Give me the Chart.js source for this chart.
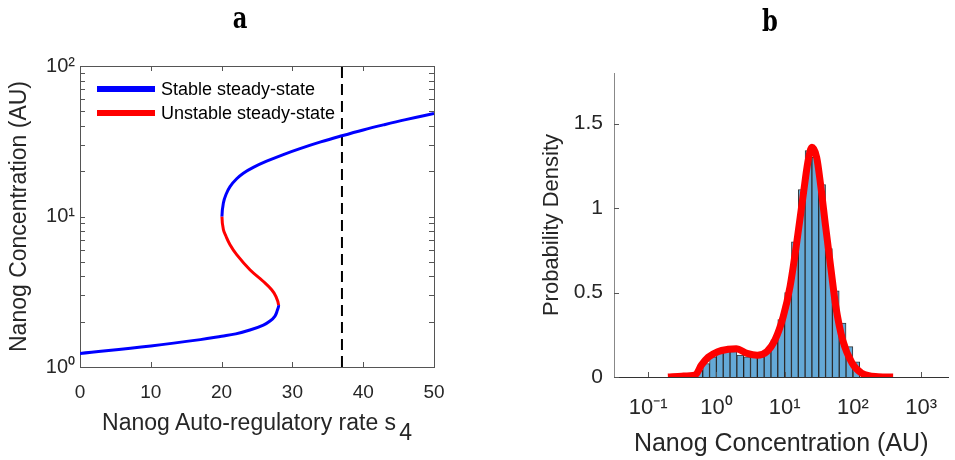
<!DOCTYPE html>
<html>
<head>
<meta charset="utf-8">
<script src="https://cdn.jsdelivr.net/npm/chart.js@4.4.0/dist/chart.umd.min.js"></script>
<style>
  body { margin: 0; background: #fff; }
  #page { position: relative; width: 955px; height: 460px; overflow: hidden; font-family: "Liberation Sans", Arial, sans-serif; color: #262626; }
  canvas { position: absolute; top: 0; }
  #chartA { left: 0; }
  #chartB { left: 477px; }
  .panel { position: absolute; width: 40px; text-align: center; font: bold 29px "DejaVu Serif", serif; line-height: 32px; color: #000; transform: scaleX(0.78); }
  #xTitleA { position: absolute; left: 80px; width: 354px; top: 408px; text-align: center; font-size: 23px; line-height: 28px; white-space: nowrap; }
  #xTitleA span { position: relative; top: 10px; margin-left: 3px; }
</style>
</head>
<body>
<div id="page">
  <canvas id="chartA" width="477" height="460"></canvas>
  <canvas id="chartB" width="478" height="460"></canvas>
  <div class="panel" style="left:220px;top:2px">a</div>
  <div class="panel" style="left:750px;top:5px">b</div>
  <div id="xTitleA">Nanog Auto-regulatory rate s<span>4</span></div>
</div>
<script>
// ---- panel a: steady states of Nanog vs auto-regulatory rate s4 ----
// lower stable branch (s ascending, ends at the lower fold)
const lowerS = [0, 10, 17, 20, 22, 24, 25.9, 26.84, 27.54, 27.87, 28.05];
const lowerN = [1.23, 1.38, 1.52, 1.60, 1.66, 1.76, 1.90, 2.02, 2.18, 2.38, 2.58];
// unstable branch (from lower fold back to upper fold)
const unstableS = [28.05, 27.68, 27.07, 25.9, 24.0, 22.13, 21.19, 20.62, 20.25, 20.05];
const unstableN = [2.58, 2.94, 3.26, 3.70, 4.43, 5.58, 6.5, 7.39, 8.2, 10.0];
// upper stable branch (from upper fold)
const upperS = [20.05, 20.25, 20.62, 21.19, 22.13, 23.07, 24.48, 26.36, 28.72, 31.07, 34.0, 37.0, 40.0, 42.84, 46.0, 50.0];
const upperN = [10.0, 12.3, 14.0, 15.8, 17.8, 19.4, 21.2, 23.3, 25.8, 28.25, 31.3, 34.4, 37.6, 40.6, 44.0, 48.3];
const markerS = [37, 37];
const markerN = [1, 100];
const xTicksA = [0, 10, 20, 30, 40, 50];
const yDecadesA = [1, 10, 100];
const legendLabelsA = ['Stable steady-state', 'Unstable steady-state'];

// ---- panel b: histogram of log10 Nanog (bin centres) and density fit ----
const binLogCenters = [-0.25, -0.15, -0.05, 0.05, 0.15, 0.25, 0.35, 0.45, 0.55, 0.65, 0.75, 0.85,
                       0.95, 1.05, 1.15, 1.25, 1.35, 1.45, 1.55, 1.65, 1.75, 1.85, 1.95, 2.05];
const binDensity = [0.04, 0.08, 0.12, 0.14, 0.15, 0.15, 0.13, 0.12, 0.12, 0.12, 0.15, 0.22,
                    0.34, 0.50, 0.80, 1.11, 1.34, 1.30, 1.14, 0.76, 0.51, 0.32, 0.18, 0.09];
const fitLogConc = [-0.71, -0.51, -0.31, -0.22, -0.12, 0.02, 0.17, 0.29, 0.45, 0.60, 0.74, 0.86, 0.98,
                    1.08, 1.17, 1.27, 1.34, 1.40, 1.47, 1.53, 1.60, 1.68, 1.75, 1.85, 1.99, 2.13, 2.37, 2.59];
const fitDensity = [0.0, 0.005, 0.012, 0.07, 0.117, 0.15, 0.164, 0.168, 0.14, 0.129, 0.15, 0.22, 0.358,
                    0.537, 0.774, 1.07, 1.27, 1.36, 1.30, 1.13, 0.893, 0.636, 0.418, 0.22, 0.081, 0.022, 0.002, 0.0];
const xDecadesB = [0.1, 1, 10, 100, 1000];
const yTicksB = [0, 0.5, 1, 1.5];

const BLUE = '#0000FF', RED = '#FF0000';
const SUP = {'-': '\u207B', '0': '\u2070', '1': '\u00B9', '2': '\u00B2', '3': '\u00B3'};
function powLabel(v) {
    const e = Math.round(Math.log10(v));
    if (Math.abs(v - Math.pow(10, e)) > 1e-9 * v) return '';
    return '10' + String(e).split('').map(c => SUP[c]).join('');
}
function xy(xs, ys) { return xs.map((x, i) => ({x: x, y: ys[i]})); }

// inward tick marks (MATLAB style), optional full box
const inTicks = {
    id: 'inTicks',
    afterDraw(chart, args, o) {
        const {ctx, chartArea: ca, scales} = chart;
        const len = o.len || 5;
        ctx.save();
        ctx.lineWidth = 1;
        ctx.strokeStyle = o.color;
        const seg = (x1, y1, x2, y2) => { ctx.beginPath(); ctx.moveTo(x1, y1); ctx.lineTo(x2, y2); ctx.stroke(); };
        scales.x.ticks.forEach(t => {
            const p = Math.round(scales.x.getPixelForValue(t.value)) + 0.5;
            seg(p, ca.bottom, p, ca.bottom - len);
            if (o.box) seg(p, ca.top, p, ca.top + len);
        });
        scales.y.ticks.forEach(t => {
            const p = Math.round(scales.y.getPixelForValue(t.value)) + 0.5;
            seg(ca.left, p, ca.left + len, p);
            if (o.box) seg(ca.right, p, ca.right - len, p);
        });
        if (o.box) {
            seg(ca.left, Math.round(ca.top) + 0.5, ca.right, Math.round(ca.top) + 0.5);
            seg(Math.round(ca.right) + 0.5, ca.top, Math.round(ca.right) + 0.5, ca.bottom);
        }
        ctx.restore();
    }
};

// legend drawn inside the plot area, top-left
const insideLegend = {
    id: 'insideLegend',
    afterDraw(chart, args, o) {
        if (!o.display) return;
        const {ctx, chartArea: ca} = chart;
        ctx.save();
        ctx.font = o.font;
        ctx.textBaseline = 'middle';
        let y = ca.top + o.top;
        o.labels.forEach((label, i) => {
            const x0 = ca.left + o.left;
            ctx.strokeStyle = o.colors[i];
            ctx.lineWidth = o.lineWidth;
            ctx.beginPath(); ctx.moveTo(x0, y); ctx.lineTo(x0 + o.lineLength, y); ctx.stroke();
            ctx.fillStyle = '#000';
            ctx.fillText(label, x0 + o.lineLength + o.gap, y + 1);
            y += o.spacing;
        });
        ctx.restore();
    }
};

window.addEventListener('load', () => {
    Chart.defaults.font.family = '"Liberation Sans", Arial, sans-serif';
    Chart.defaults.color = '#262626';

    // one continuous S-shaped path: lower branch -> unstable branch -> upper branch
    const curve = xy(lowerS, lowerN)
        .concat(xy(unstableS, unstableN).slice(1))
        .concat(xy(upperS, upperN).slice(1));
    const redFrom = lowerS.length - 1;
    const redTo = redFrom + unstableS.length - 1;

    new Chart(document.getElementById('chartA').getContext('2d'), {
        type: 'line',
        data: {
            datasets: [
                { label: 'Steady states', data: curve, borderColor: BLUE, borderWidth: 3,
                  pointRadius: 0, tension: 0.4, order: 0,
                  segment: { borderColor: c => (c.p0DataIndex >= redFrom && c.p1DataIndex <= redTo) ? RED : BLUE } },
                { label: 's4 = 37', data: xy(markerS, markerN), borderColor: '#000', borderWidth: 2,
                  borderDash: [11, 6], pointRadius: 0, order: 1 }
            ]
        },
        options: {
            responsive: false,
            animation: false,
            layout: { padding: { left: 0, right: 43, top: 66, bottom: 0 } },
            plugins: {
                legend: { display: false },
                tooltip: { enabled: false },
                inTicks: { color: '#555', len: 5, box: true },
                insideLegend: { display: true, labels: legendLabelsA, colors: [BLUE, RED],
                                font: '18px "Liberation Sans", Arial, sans-serif',
                                left: 17, top: 23, lineLength: 58, gap: 6, lineWidth: 6, spacing: 24 }
            },
            scales: {
                x: {
                    type: 'linear', min: 0, max: 50,
                    afterBuildTicks: s => { s.ticks = xTicksA.map(v => ({value: v})); },
                    afterFit: s => { s.height = 93; },
                    grid: { display: false, drawTicks: false },
                    border: { display: true, color: '#555', width: 1 },
                    ticks: { padding: 14, font: { size: 19 }, color: '#262626' }
                },
                y: {
                    type: 'logarithmic', min: 1, max: 100,
                    afterBuildTicks: s => {
                        const t = [];
                        yDecadesA.forEach((d, i) => {
                            if (i === yDecadesA.length - 1) { t.push({value: d}); return; }
                            for (let k = 1; k < 10; k++) t.push({value: d * k});
                        });
                        s.ticks = t;
                    },
                    afterFit: s => { s.width = 80; },
                    grid: { display: false, drawTicks: false },
                    border: { display: true, color: '#555', width: 1 },
                    ticks: { padding: 5, autoSkip: false, font: { size: 20 }, color: '#262626',
                             callback: v => powLabel(v) },
                    title: { display: true, text: 'Nanog Concentration (AU)', color: '#262626',
                             font: { size: 23 }, padding: { top: 6, bottom: 0 } }
                }
            }
        },
        plugins: [inTicks, insideLegend]
    });

    new Chart(document.getElementById('chartB').getContext('2d'), {
        type: 'bar',
        data: {
            datasets: [
                { type: 'line', label: 'Density fit',
                  data: xy(fitLogConc.map(v => Math.pow(10, v)), fitDensity),
                  borderColor: RED, borderWidth: 7, pointRadius: 0,
                  cubicInterpolationMode: 'monotone', order: 0 },
                { type: 'bar', label: 'Histogram',
                  data: xy(binLogCenters.map(v => Math.pow(10, v)), binDensity),
                  backgroundColor: '#64A9D7', borderColor: 'rgba(0,0,0,0.8)', borderWidth: 1,
                  barPercentage: 1, categoryPercentage: 1, order: 1 }
            ]
        },
        options: {
            responsive: false,
            animation: false,
            layout: { padding: { left: 0, right: 0, top: 73, bottom: 0 } },
            plugins: {
                legend: { display: false },
                tooltip: { enabled: false },
                inTicks: { color: '#555', len: 5, box: false },
                insideLegend: { display: false }
            },
            scales: {
                x: {
                    type: 'logarithmic', min: 0.0316, max: 2512, offset: false,
                    afterBuildTicks: s => { s.ticks = xDecadesB.map(v => ({value: v})); },
                    afterFit: s => { s.height = 83; },
                    grid: { display: false, drawTicks: false, offset: false },
                    border: { display: true, color: '#333', width: 1 },
                    ticks: { padding: 18, autoSkip: false, maxRotation: 0, font: { size: 22 }, color: '#262626',
                             callback: v => powLabel(v) },
                    title: { display: true, text: 'Nanog Concentration (AU)', color: '#262626',
                             font: { size: 25 }, padding: { top: 0, bottom: 1 } }
                },
                y: {
                    type: 'linear', min: 0, max: 1.8,
                    afterBuildTicks: s => { s.ticks = yTicksB.map(v => ({value: v})); },
                    afterFit: s => { s.width = 137; },
                    grid: { display: false, drawTicks: false },
                    border: { display: true, color: '#888', width: 1 },
                    ticks: { padding: 11, font: { size: 21 }, color: '#262626', callback: v => String(v) },
                    title: { display: true, text: 'Probability Density', color: '#262626',
                             font: { size: 22 }, padding: { top: 62, bottom: 0 } }
                }
            }
        },
        plugins: [inTicks, insideLegend]
    });
});
</script>
</body>
</html>
